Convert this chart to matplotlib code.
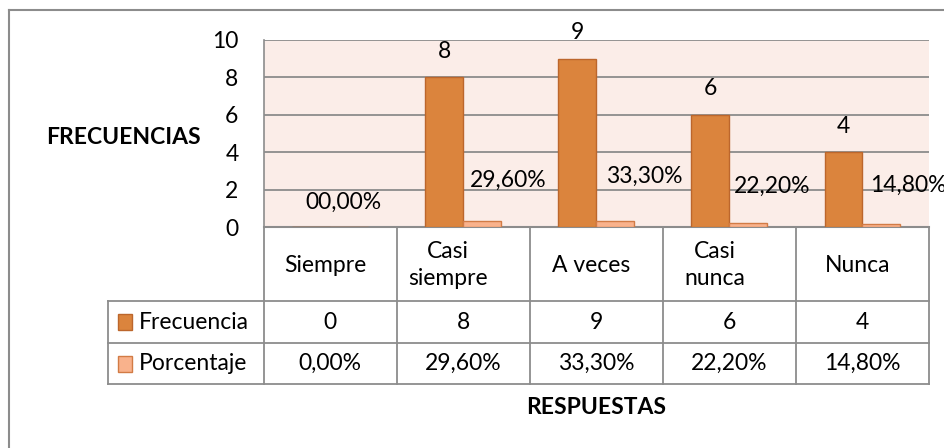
import numpy as np
import matplotlib
matplotlib.use("Agg")
import matplotlib.pyplot as plt
import matplotlib.transforms as mtransforms
from matplotlib.patches import Rectangle
from matplotlib.lines import Line2D

# datos del grafico
categorias = ["Siempre", "Casi\nsiempre", "A veces", "Casi\nnunca", "Nunca"]
frecuencia = [0, 8, 9, 6, 4]
porcentaje = [0.0, 0.296, 0.333, 0.222, 0.148]
etiquetas_pct = ["00,00%", "29,60%", "33,30%", "22,20%", "14,80%"]
tabla_pct = ["0,00%", "29,60%", "33,30%", "22,20%", "14,80%"]
series = ["Frecuencia", "Porcentaje"]

plt.rcParams['font.family'] = ['Lato', 'DejaVu Sans']

W, H = 944, 448
GRIS = '#8C8C8C'
C_FREC = '#DB843D'
C_PORC = '#F9B28C'
FS = 16.5


def fx(px):
    return px / W


def fy(py):
    return 1 - py / H


fig = plt.figure(figsize=(W / 100, H / 100), dpi=100)

# marco exterior (solo izquierda y arriba visibles)
fig.add_artist(Line2D([fx(9), fx(9)], [fy(10), fy(460)], color=GRIS, lw=1.5, transform=fig.transFigure))
fig.add_artist(Line2D([fx(9), fx(960)], [fy(10), fy(10)], color=GRIS, lw=1.5, transform=fig.transFigure))

ax = fig.add_axes([fx(263.5), fy(227), fx(929) - fx(263.5), fy(40) - fy(227)])
ax.set_facecolor('#FBEDE8')
x = np.arange(len(categorias))
ancho = 0.285
b1 = ax.bar(x - ancho / 2, frecuencia, ancho, color=C_FREC, edgecolor='#BC662C', linewidth=1, zorder=3)
b2 = ax.bar(x + ancho / 2, porcentaje, ancho, color=C_PORC, edgecolor='#D27B45', linewidth=1, zorder=3)
ax.set_xlim(-0.5, 4.5)
ax.set_ylim(0, 10)
ax.set_yticks(range(0, 11, 2))
ax.set_xticks([])
ax.grid(axis='y', color=GRIS, lw=1.3, zorder=1)
ax.set_axisbelow(True)
for s in ['top', 'right']:
    ax.spines[s].set_visible(False)
ax.spines['left'].set_color(GRIS)
ax.spines['bottom'].set_color(GRIS)
ax.spines['left'].set_linewidth(1.2)
ax.spines['bottom'].set_linewidth(1.5)
ax.tick_params(axis='y', length=0, labelsize=FS, pad=18)

# etiquetas de las barras
for xi, v in zip(x, frecuencia):
    if v > 0:
        ax.annotate(str(v), (xi - ancho / 2, v), xytext=(0, 26), textcoords='offset pixels',
                    ha='center', va='center', fontsize=FS)
desp = [(-6, 25), (26, 41), (29, 44), (24, 37), (27, 39)]
for xi, v, t, d in zip(x, porcentaje, etiquetas_pct, desp):
    ax.annotate(t, (xi + ancho / 2, v), xytext=d, textcoords='offset pixels',
                ha='center', va='center', fontsize=FS, annotation_clip=False)

fig.text(fx(123), fy(137), "FRECUENCIAS", ha='center', va='center', fontsize=FS, fontweight='bold')

# tabla de datos
tr = mtransforms.blended_transform_factory(ax.transData, fig.transFigure)
ancho_cat = (929 - 263.5) / 5
x_izq = -0.5 - (263.5 - 108) / ancho_cat
y_filas = [301, 343, 384]
for yy in y_filas:
    fig.add_artist(Line2D([x_izq, 4.5], [fy(yy), fy(yy)], color=GRIS, lw=1.3, transform=tr))
for xe in np.arange(-0.5, 5, 1):
    fig.add_artist(Line2D([xe, xe], [fy(227), fy(384)], color=GRIS, lw=1.3, transform=tr))
fig.add_artist(Line2D([x_izq, x_izq], [fy(301), fy(384)], color=GRIS, lw=1.3, transform=tr))

for xi, c in zip(x, categorias):
    corr = -15 if "\n" in c else -5
    fig.text(xi + corr / ancho_cat, fy(265), c, transform=tr, ha='center', va='center',
             fontsize=FS, linespacing=1.3)
for xi, v in zip(x, frecuencia):
    fig.text(xi, fy(322), str(v), transform=tr, ha='center', va='center', fontsize=FS)
for xi, t in zip(x, tabla_pct):
    fig.text(xi, fy(363.5), t, transform=tr, ha='center', va='center', fontsize=FS)

for nombre, yc, col, borde in zip(series, [322, 363.5], [C_FREC, C_PORC], ['#BC662C', '#D27B45']):
    fig.add_artist(Rectangle((fx(118), fy(yc + 8)), fx(14), fy(0) - fy(16), facecolor=col,
                             edgecolor=borde, lw=1, transform=fig.transFigure))
    fig.text(fx(139), fy(yc), nombre, ha='left', va='center', fontsize=FS)

fig.text(fx(596), fy(407), "RESPUESTAS", ha='center', va='center', fontsize=FS, fontweight='bold')

fig.savefig("out.png", dpi=100)
